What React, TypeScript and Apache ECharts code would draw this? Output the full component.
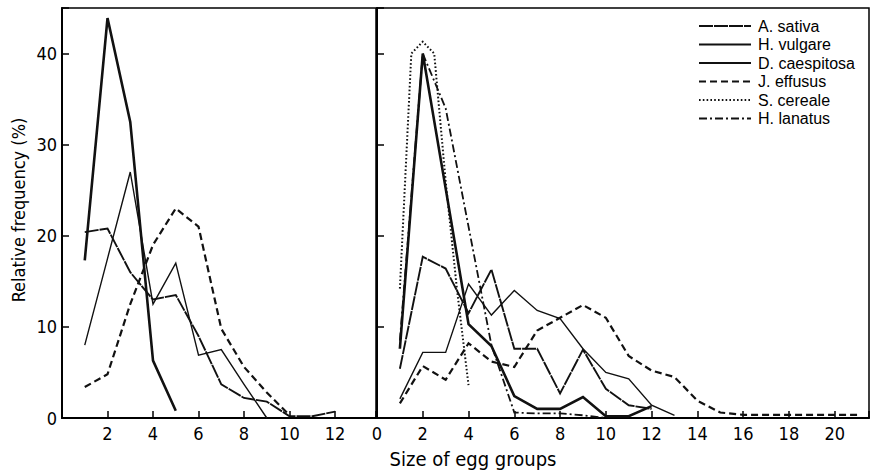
import React, { useEffect, useRef } from "react";
import * as echarts from "echarts";

// Group sizes (x) for each panel
const leftSizes = [1, 2, 3, 4, 5, 6, 7, 8, 9, 10, 11, 12];
const rightSizes = [1, 2, 3, 4, 5, 6, 7, 8, 9, 10, 11, 12, 13, 14, 15, 16, 17, 18, 19, 20, 21];
const cerealeSizes = [1, 1.5, 2, 2.5, 3, 3.5, 4];

// Left panel: relative frequency (%)
const leftSativa = [20.4, 20.8, 16, 13, 13.5, 9, 3.7, 2.2, 1.8, 0.2, 0.2, 0.7];
const leftVulgare = [8, 17.5, 27, 12.5, 17, 6.9, 7.5, 3.7, 0];
const leftCaespitosa = [17.3, 43.9, 32.5, 6.3, 0.8];
const leftEffusus = [3.4, 4.8, 12.5, 19, 23, 21, 9.8, 5.6, 2.8, 0.3];

// Right panel: relative frequency (%)
const rightSativa = [5.4, 17.7, 16.4, 11.5, 16.3, 7.6, 7.6, 2.7, 7.5, 3.2, 1.4, 1.0];
const rightVulgare = [2.1, 7.2, 7.2, 14.7, 11.3, 14.0, 11.8, 10.9, 7.6, 5.0, 4.3, 1.4, 0.3];
const rightCaespitosa = [7.6, 40, 25.2, 10.3, 7.9, 2.4, 1.0, 1.0, 2.3, 0.2, 0.2, 1.3];
const rightEffusus = [1.6, 5.7, 4.2, 8.2, 6.2, 5.6, 9.6, 11, 12.4, 11, 6.8, 5.2, 4.5, 1.9, 0.6, 0.35, 0.35, 0.35, 0.35, 0.35, 0.35];
const rightCereale = [14.2, 40, 41.3, 40, 26, 14, 3.6];
const rightLanatus = [8.5, 40, 34, 21, 8, 0.6, 0.5, 0.5, 0.3, 0];

const speciesNames = ["A. sativa", "H. vulgare", "D. caespitosa", "J. effusus", "S. cereale", "H. lanatus"];

const numFont = "'Liberation Sans Narrow', 'DejaVu Sans Condensed', 'Liberation Sans', sans-serif";
const textFont = "'Liberation Sans', Arial, sans-serif";

const styles: Record<string, { width: number; type: any }> = {
  "A. sativa": { width: 1.9, type: [14, 1] },
  "H. vulgare": { width: 1.4, type: "solid" },
  "D. caespitosa": { width: 2.6, type: "solid" },
  "J. effusus": { width: 2.2, type: [7, 4] },
  "S. cereale": { width: 2, type: [1.6, 2.2] },
  "H. lanatus": { width: 1.8, type: [8, 3, 2, 3] },
};

function zip(xs: number[], ys: number[]) {
  return ys.map((y, i) => [xs[i], y]);
}

function line(name: string, idx: number, xs: number[], ys: number[]) {
  const s = styles[name];
  return {
    name,
    type: "line",
    xAxisIndex: idx,
    yAxisIndex: idx,
    data: zip(xs, ys),
    symbol: "none",
    lineStyle: { color: "#111", width: s.width, type: s.type, join: "miter" },
    itemStyle: { color: "#111" },
  };
}

function xAxisFor(idx: number, max: number, showZero: boolean) {
  return {
    type: "value",
    gridIndex: idx,
    min: 0,
    max,
    interval: 2,
    axisLine: { show: true, onZero: false, lineStyle: { color: "#000", width: 2 } },
    axisTick: { show: true, inside: true, length: 7, lineStyle: { color: "#000", width: 1.5 } },
    axisLabel: {
      color: "#000",
      fontSize: 18,
      fontFamily: numFont,
      margin: 6,
      formatter: (v: number) => (v % 2 === 0 && (showZero || v !== 0) ? String(v) : ""),
    },
    splitLine: { show: false },
  };
}

function yAxisFor(idx: number, labels: boolean) {
  return {
    type: "value",
    gridIndex: idx,
    min: 0,
    max: 45,
    interval: 10,
    axisLine: { show: true, lineStyle: { color: "#000", width: 2 } },
    axisTick: { show: true, inside: true, length: 7, lineStyle: { color: "#000", width: 1.5 } },
    axisLabel: {
      show: labels,
      color: "#000",
      fontSize: 18,
      fontFamily: numFont,
      margin: 5,
      formatter: (v: number) => (v % 10 === 0 ? String(v) : ""),
    },
    splitLine: { show: false },
  };
}

export default function App() {
  const ref = useRef<HTMLDivElement>(null);

  useEffect(() => {
    document.body.style.margin = "0";
    const chart = echarts.init(ref.current!, null, { renderer: "svg" });
    chart.setOption({
      animation: false,
      backgroundColor: "#fff",
      grid: [
        { left: 62, top: 8, right: 503, bottom: 52, show: true, borderColor: "#000", borderWidth: 1.5 },
        { left: 377, top: 8, right: 10, bottom: 52, show: true, borderColor: "#000", borderWidth: 1.5 },
      ],
      xAxis: [xAxisFor(0, 13.8, false), xAxisFor(1, 21.5, true)],
      yAxis: [yAxisFor(0, true), yAxisFor(1, false)],
      legend: {
        data: speciesNames,
        orient: "vertical",
        left: 698,
        top: 18,
        padding: 0,
        itemWidth: 52,
        itemHeight: 10,
        itemGap: 2.5,
        itemStyle: { opacity: 0 },
        textStyle: { color: "#000", fontSize: 16, fontFamily: textFont, lineHeight: 16, padding: [0, 0, 0, 2] },
        selectedMode: false,
      },
      graphic: [
        {
          type: "text",
          x: 473,
          y: 459,
          style: {
            text: "Size of egg groups",
            x: 0,
            y: 0,
            align: "center",
            verticalAlign: "middle",
            fontSize: 20,
            fontFamily: numFont,
            fill: "#000",
          },
        },
        {
          type: "text",
          x: 18,
          y: 210,
          rotation: Math.PI / 2,
          style: {
            text: "Relative frequency (%)",
            x: 0,
            y: 0,
            align: "center",
            verticalAlign: "middle",
            fontSize: 18,
            fontFamily: numFont,
            fill: "#000",
          },
        },
      ],
      series: [
        line("A. sativa", 0, leftSizes, leftSativa),
        line("H. vulgare", 0, leftSizes, leftVulgare),
        line("D. caespitosa", 0, leftSizes, leftCaespitosa),
        line("J. effusus", 0, leftSizes, leftEffusus),
        line("A. sativa", 1, rightSizes, rightSativa),
        line("H. vulgare", 1, rightSizes, rightVulgare),
        line("D. caespitosa", 1, rightSizes, rightCaespitosa),
        line("J. effusus", 1, rightSizes, rightEffusus),
        line("S. cereale", 1, cerealeSizes, rightCereale),
        line("H. lanatus", 1, rightSizes, rightLanatus),
      ],
    });
    return () => chart.dispose();
  }, []);

  return <div ref={ref} style={{ width: 879, height: 470 }} />;
}
